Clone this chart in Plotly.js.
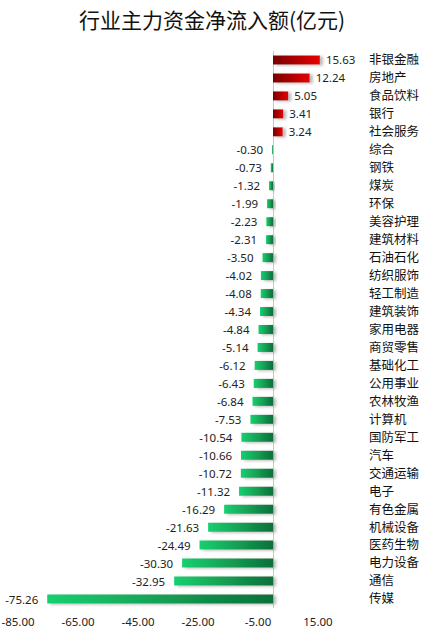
<!DOCTYPE html>
<html>
<head>
<meta charset="utf-8">
<script src="https://cdn.plot.ly/plotly-3.0.1.min.js"></script>
<style>html,body{margin:0;padding:0;background:#fff;}#chart{width:424px;height:638px;}</style>
</head>
<body>
<div id="chart"></div>
<script>
const categories = ["非银金融","房地产","食品饮料","银行","社会服务","综合","钢铁","煤炭","环保","美容护理","建筑材料","石油石化","纺织服饰","轻工制造","建筑装饰","家用电器","商贸零售","基础化工","公用事业","农林牧渔","计算机","国防军工","汽车","交通运输","电子","有色金属","机械设备","医药生物","电力设备","通信","传媒"];
const netInflow = [15.63,12.24,5.05,3.41,3.24,-0.30,-0.73,-1.32,-1.99,-2.23,-2.31,-3.50,-4.02,-4.08,-4.34,-4.84,-5.14,-6.12,-6.43,-6.84,-7.53,-10.54,-10.66,-10.72,-11.32,-16.29,-21.63,-24.49,-30.30,-32.95,-75.26];
const xTickVals = [-85,-65,-45,-25,-5,15];
const xTickText = ["-85.00","-65.00","-45.00","-25.00","-5.00","15.00"];

const trace = {
  type: 'bar',
  orientation: 'h',
  x: netInflow,
  y: categories,
  marker: {color: netInflow.map(v => v >= 0 ? '#c00000' : '#139a4c'), line: {width: 0}},
  text: netInflow.map(v => v >= 0 ? '\u00a0' + v.toFixed(2) : v.toFixed(2) + '\u00a0\u00a0'),
  texttemplate: '%{text}',
  textposition: 'outside',
  constraintext: 'none',
  textfont: {family: 'Noto Sans, Liberation Sans, sans-serif', size: 11.5, color: '#222'},
  cliponaxis: false,
  hoverinfo: 'skip'
};

const layout = {
  width: 424, height: 638,
  margin: {l: 18, r: 61, t: 51, b: 30},
  paper_bgcolor: '#fff', plot_bgcolor: '#fff',
  bargap: 0.5,
  showlegend: false,
  title: {text: '行业主力资金净流入额(亿元)', x: 0.5, xanchor: 'center', y: 0.968, yanchor: 'middle',
          font: {family: 'Noto Sans CJK SC, sans-serif', size: 21, color: '#111'}},
  xaxis: {range: [-85, 30], tickmode: 'array', tickvals: xTickVals, ticktext: xTickText,
          showgrid: false, showline: false, zeroline: true, zerolinecolor: '#c8c8c8', zerolinewidth: 1,
          ticks: '', ticklabelstandoff: 5,
          tickfont: {family: 'Noto Sans, Liberation Sans, sans-serif', size: 11.5, color: '#222'},
          automargin: false, fixedrange: true},
  yaxis: {type: 'category', categoryorder: 'array', categoryarray: categories, autorange: 'reversed',
          side: 'right', showgrid: false, showline: false, zeroline: false, ticks: '',
          ticklabelstandoff: 5,
          tickfont: {family: 'Noto Sans CJK SC, sans-serif', size: 12.5, color: '#111'},
          automargin: false, fixedrange: true}
};

Plotly.newPlot('chart', [trace], layout, {displayModeBar: false, staticPlot: true}).then(gd => {
  const svg = gd.querySelector('svg.main-svg');
  const ns = 'http://www.w3.org/2000/svg';
  const defs = document.createElementNS(ns, 'defs');
  defs.innerHTML =
    '<linearGradient id="gRed" x1="0" y1="0" x2="1" y2="0">' +
      '<stop offset="0" stop-color="rgb(120,0,0)"/><stop offset="1" stop-color="rgb(232,0,0)"/></linearGradient>' +
    '<linearGradient id="gGreen" x1="0" y1="0" x2="1" y2="0">' +
      '<stop offset="0" stop-color="rgb(24,208,112)"/><stop offset="1" stop-color="rgb(14,112,58)"/></linearGradient>' +
    '<filter id="shadow" x="-20%" y="-50%" width="160%" height="220%">' +
      '<feDropShadow dx="3" dy="1" stdDeviation="1.4" flood-color="#808080" flood-opacity="0.55"/></filter>';
  svg.insertBefore(defs, svg.firstChild);
  const paths = gd.querySelectorAll('.barlayer .point path');
  paths.forEach((p, i) => {
    p.style.fill = netInflow[i] >= 0 ? 'url(#gRed)' : 'url(#gGreen)';
    p.setAttribute('filter', 'url(#shadow)');
  });
});
</script>
</body>
</html>
